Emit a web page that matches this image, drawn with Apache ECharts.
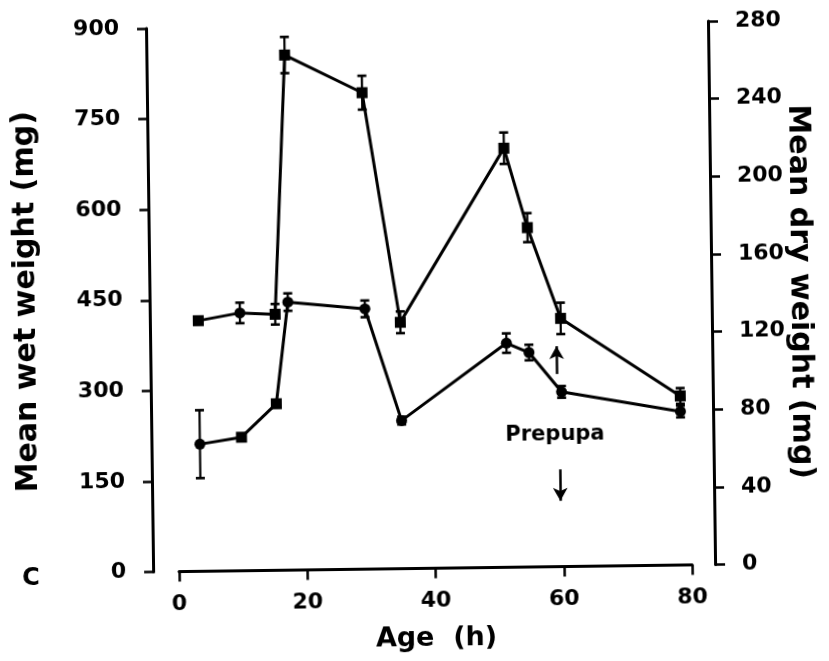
<!DOCTYPE html>
<html><head><meta charset="utf-8">
<script src="https://cdn.jsdelivr.net/npm/echarts/dist/echarts.min.js"></script>
<style>
html,body{margin:0;padding:0;background:#fff;overflow:hidden}
#c{width:829px;height:661px;transform:rotate(-0.75deg);transform-origin:50% 50%;}
</style>
</head><body><div id="c"></div>
<script>
// ---- data ----
const ages       = [3.5, 10, 15.5, 17.5, 29.5, 35, 51.5, 55, 60, 78.5];
const wetWeight  = [415, 427, 424, 853, 789, 408, 694, 562, 411, 280];
const wetError   = [0, 17, 17, 30, 28, 18, 26, 24, 26, 13];
const dryWeight  = [65.5, 68.8, 85.8, 138.1, 134.1, 76.3, 115.5, 110.5, 90.0, 79.1];
const dryError   = [17.5, 0, 0, 4.5, 4.3, 2, 5, 4, 3, 3];
const ageAxis    = [0, 80, 20];     // min, max, step
const wetAxis    = [0, 900, 150];
const dryAxis    = [0, 280, 40];
const prepupaUp   = [[59.3, 319], [59.3, 365]];
const prepupaDown = [[59.6, 161], [59.6, 109]];
const prepupaText = [58.9, 218];
const wetSymbols = ['rect','circle','rect','rect','rect','rect','rect','rect','rect','rect'];
const drySymbols = ['circle','rect','rect','circle','circle','circle','circle','circle','circle','circle'];

const FONT = 'DejaVu Sans';
const BLACK = '#000';

const wetData = ages.map((a, i) => [a, wetWeight[i]]);
const dryData = ages.map((a, i) => [a, dryWeight[i]]);
const wetErrData = ages.map((a, i) => [a, wetWeight[i] - wetError[i], wetWeight[i] + wetError[i]]);
const dryErrData = ages.map((a, i) => [a, dryWeight[i] - dryError[i], dryWeight[i] + dryError[i]]);

function errRender(params, api) {
  const x = api.value(0), lo = api.value(1), hi = api.value(2);
  if (!(hi > lo)) return { type: 'group', children: [] };
  const p1 = api.coord([x, hi]);
  const p2 = api.coord([x, lo]);
  const w = 4.5;
  const st = { stroke: BLACK, lineWidth: 2.2 };
  return { type: 'group', children: [
    { type: 'line', shape: { x1: p1[0], y1: p1[1], x2: p2[0], y2: p2[1] }, style: st },
    { type: 'line', shape: { x1: p1[0] - w, y1: p1[1], x2: p1[0] + w, y2: p1[1] }, style: { stroke: BLACK, lineWidth: 2.6 } },
    { type: 'line', shape: { x1: p2[0] - w, y1: p2[1], x2: p2[0] + w, y2: p2[1] }, style: { stroke: BLACK, lineWidth: 2.6 } }
  ]};
}

const labelStyle = { fontFamily: FONT, fontWeight: 'bold', fontSize: 22, color: BLACK };
const nameStyle = (s) => ({ fontFamily: FONT, fontWeight: 'bold', fontSize: s, color: BLACK });

const chart = echarts.init(document.getElementById('c'), null, { renderer: 'canvas' });
chart.setOption({
  backgroundColor: '#fff',
  animation: false,
  grid: { left: 176, right: 140, top: 25, bottom: 92.5, containLabel: false, outerBoundsMode: 'none' },
  xAxis: {
    type: 'value', min: ageAxis[0], max: ageAxis[1], interval: ageAxis[2],
    name: 'Age  (h)', nameLocation: 'middle', nameGap: 57, nameMoveOverlap: false, nameTextStyle: nameStyle(27),
    axisLine: { show: true, onZero: false, lineStyle: { color: BLACK, width: 3 } },
    axisTick: { show: true, inside: false, length: 10, lineStyle: { color: BLACK, width: 2.5 } },
    axisLabel: Object.assign({ margin: 22 }, labelStyle),
    splitLine: { show: false }
  },
  yAxis: [
    {
      type: 'value', position: 'left', offset: 26,
      min: wetAxis[0], max: wetAxis[1], interval: wetAxis[2],
      name: 'Mean wet weight (mg)', nameLocation: 'middle', nameGap: 108, nameMoveOverlap: false, nameTextStyle: nameStyle(30),
      axisLine: { show: true, onZero: false, lineStyle: { color: BLACK, width: 3 } },
      axisTick: { show: true, length: 9, lineStyle: { color: BLACK, width: 2.5 } },
      axisLabel: Object.assign({ margin: 27 }, labelStyle),
      splitLine: { show: false }
    },
    {
      type: 'value', position: 'right', offset: 23,
      min: dryAxis[0], max: dryAxis[1], interval: dryAxis[2],
      name: 'Mean dry weight (mg)', nameLocation: 'middle', nameGap: 73, nameRotate: -90, nameMoveOverlap: false, nameTextStyle: nameStyle(30),
      axisLine: { show: true, onZero: false, lineStyle: { color: BLACK, width: 3 } },
      axisTick: { show: true, length: 10, lineStyle: { color: BLACK, width: 2.5 } },
      axisLabel: Object.assign({ margin: 27 }, labelStyle),
      splitLine: { show: false }
    }
  ],
  series: [
    {
      type: 'custom', name: 'wetErr', coordinateSystem: 'cartesian2d', yAxisIndex: 0,
      renderItem: errRender, data: wetErrData, encode: { x: 0, y: [1, 2] }, z: 3, silent: true
    },
    {
      type: 'custom', name: 'dryErr', coordinateSystem: 'cartesian2d', yAxisIndex: 1,
      renderItem: errRender, data: dryErrData, encode: { x: 0, y: [1, 2] }, z: 3, silent: true
    },
    {
      type: 'line', name: 'Mean wet weight', yAxisIndex: 0, data: wetData, z: 4,
      symbol: (v, p) => wetSymbols[p.dataIndex], symbolSize: 11,
      lineStyle: { color: BLACK, width: 3 }, itemStyle: { color: BLACK, borderWidth: 0 },
      markLine: {
        silent: true, symbol: ['none', 'arrow'], symbolSize: [11, 13],
        label: { show: false },
        lineStyle: { color: BLACK, width: 2.5, type: 'solid' },
        data: [
          [{ coord: prepupaUp[0] }, { coord: prepupaUp[1] }],
          [{ coord: prepupaDown[0] }, { coord: prepupaDown[1] }]
        ]
      },
      markPoint: {
        silent: true,
        data: [{ coord: prepupaText, symbol: 'circle', symbolSize: 1,
                 itemStyle: { color: 'rgba(0,0,0,0)' },
                 label: { show: true, position: 'inside', formatter: 'Prepupa',
                          fontFamily: FONT, fontWeight: 'bold', fontSize: 21, color: BLACK } }]
      }
    },
    {
      type: 'line', name: 'Mean dry weight', yAxisIndex: 1, data: dryData, z: 4,
      symbol: (v, p) => drySymbols[p.dataIndex], symbolSize: 11,
      lineStyle: { color: BLACK, width: 3 }, itemStyle: { color: BLACK, borderWidth: 0 }
    }
  ],
  graphic: [
    { type: 'text', left: 19, top: 562,
      style: { text: 'C', fontFamily: FONT, fontWeight: 'bold', fontSize: 24, fill: BLACK } }
  ]
});
</script></body></html>
